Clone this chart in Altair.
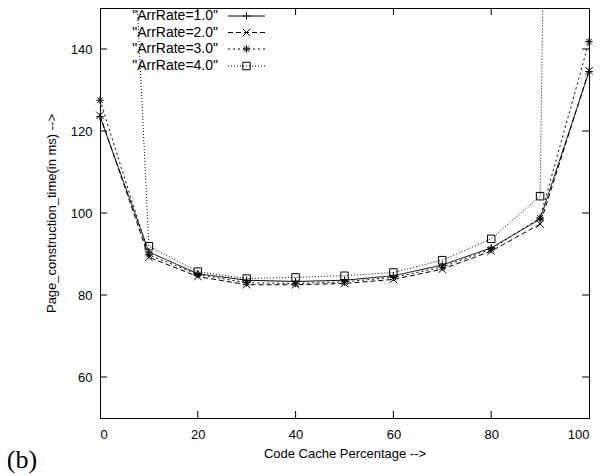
import altair as alt
import pandas as pd

code_cache = [0, 10, 20, 30, 40, 50, 60, 70, 80, 90, 100]
rate_1 = [123.5, 90.5, 85.2, 83.6, 83.3, 83.6, 84.7, 87.3, 91.5, 98.5, 134.5]
rate_2 = [123.8, 89.2, 84.5, 82.5, 82.5, 82.8, 83.8, 86.3, 90.7, 97.3, 134.7]
rate_3 = [127.5, 89.8, 85.0, 83.0, 82.8, 83.2, 84.3, 86.8, 91.2, 98.8, 141.8]
rate_4 = [340.0, 91.9, 85.7, 84.0, 84.3, 84.7, 85.5, 88.5, 93.7, 104.1, 950.0]
series_names = ['"ArrRate=1.0"', '"ArrRate=2.0"', '"ArrRate=3.0"', '"ArrRate=4.0"']
x_ticks = [0, 20, 40, 60, 80, 100]
y_ticks = [60, 80, 100, 120, 140]

rows = []
for name, vals in zip(series_names, [rate_1, rate_2, rate_3, rate_4]):
    for xv, yv in zip(code_cache, vals):
        rows.append({"x": xv, "y": yv, "series": name})
df = pd.DataFrame(rows)

W, H = 489, 410
TL = 7

dashes = [[1, 0], [5, 3], [2, 3], [1, 2]]
shapes = [
    "M-1,0L1,0M0,-1L0,1",
    "M-1,-1L1,1M-1,1L1,-1",
    "M-1,0L1,0M0,-1L0,1M-0.75,-0.75L0.75,0.75M-0.75,0.75L0.75,-0.75",
    "square",
]

x_scale = alt.Scale(domain=[0, 100], nice=False)
y_scale = alt.Scale(domain=[50, 150], nice=False)
x_axis = alt.Axis(values=x_ticks, tickSize=0, labelPadding=10, titlePadding=6,
                  title="Code Cache Percentage -->", grid=False)
y_axis = alt.Axis(values=y_ticks, tickSize=0, labelPadding=8, titlePadding=12,
                  title="Page_construction_time(in ms) -->", grid=False)

X = alt.X("x:Q", scale=x_scale, axis=x_axis)
Y = alt.Y("y:Q", scale=y_scale, axis=y_axis)

lines = alt.Chart(df).mark_line(clip=True, color="black", strokeWidth=1).encode(
    x=X, y=Y,
    strokeDash=alt.StrokeDash("series:N", scale=alt.Scale(domain=series_names, range=dashes), legend=None),
    detail="series:N",
)
points = alt.Chart(df).transform_filter(alt.datum.y <= 150).mark_point(
    color="black", filled=False, strokeWidth=1, size=56, opacity=1).encode(
    x=X, y=Y,
    shape=alt.Shape("series:N", scale=alt.Scale(domain=series_names, range=shapes), legend=None),
)

xt = pd.DataFrame({"x": x_ticks[1:-1]})
yt = pd.DataFrame({"y": y_ticks})
tick_b = alt.Chart(xt).mark_rule(color="black", strokeWidth=1).encode(x=X, y=alt.value(H), y2=alt.value(H - TL))
tick_t = alt.Chart(xt).mark_rule(color="black", strokeWidth=1).encode(x=X, y=alt.value(0), y2=alt.value(TL))
tick_l = alt.Chart(yt).mark_rule(color="black", strokeWidth=1).encode(y=Y, x=alt.value(0), x2=alt.value(TL))
tick_r = alt.Chart(yt).mark_rule(color="black", strokeWidth=1).encode(y=Y, x=alt.value(W), x2=alt.value(W - TL))

legend_layers = []
row_y = [8, 24.5, 41, 58]
one = pd.DataFrame({"a": [0]})
for i, name in enumerate(series_names):
    ry = row_y[i]
    legend_layers.append(
        alt.Chart(pd.DataFrame({"label": [name]})).mark_text(align="right", baseline="middle", fontSize=14,
                                                            font="Liberation Sans", color="black").encode(
            text="label:N", x=alt.value(118), y=alt.value(ry))
    )
    legend_layers.append(
        alt.Chart(one).mark_rule(color="black", strokeWidth=1, strokeDash=dashes[i]).encode(
            x=alt.value(128), x2=alt.value(165), y=alt.value(ry))
    )
    legend_layers.append(
        alt.Chart(one).mark_point(color="black", filled=False, strokeWidth=1, size=56, opacity=1,
                                  shape=shapes[i]).encode(x=alt.value(146.5), y=alt.value(ry))
    )

label_b = alt.Chart(one).mark_text(text="(b)", font="Liberation Serif", fontSize=26, align="center",
                                   baseline="middle", color="black").encode(
    x=alt.value(-78), y=alt.value(452))

chart = alt.layer(lines, points, tick_b, tick_t, tick_l, tick_r, *legend_layers, label_b).properties(
    width=W, height=H,
    autosize=alt.AutoSizeParams(type="none"),
    padding={"left": 92, "top": 0, "right": 6, "bottom": 58},
).configure_view(stroke="black", strokeWidth=1).configure_axis(
    labelFont="Liberation Sans", titleFont="Liberation Sans", labelFontSize=13, titleFontSize=13,
    titleFontWeight="normal", labelColor="black", titleColor="black", domainColor="black", domainWidth=1,
)

chart.save("out.html", embed_options={"renderer": "svg", "actions": False})
